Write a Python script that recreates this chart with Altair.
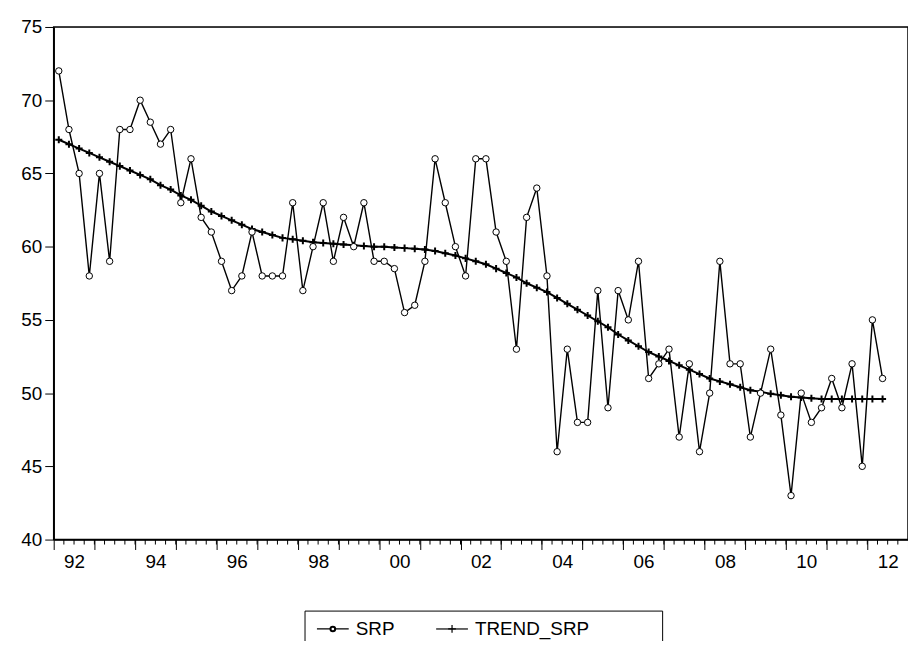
import altair as alt
import pandas as pd

start_year = 1992
srp = [72, 68, 65, 58, 65, 59, 68, 68, 70, 68.5, 67, 68,
       63, 66, 62, 61, 59, 57, 58, 61, 58, 58, 58, 63,
       57, 60, 63, 59, 62, 60, 63, 59, 59, 58.5, 55.5, 56,
       59, 66, 63, 60, 58, 66, 66, 61, 59, 53, 62, 64,
       58, 46, 53, 48, 48, 57, 49, 57, 55, 59, 51, 52,
       53, 47, 52, 46, 50, 59, 52, 52, 47, 50, 53, 48.5,
       43, 50, 48, 49, 51, 49, 52, 45, 55, 51]
trend = [67.3, 67.0, 66.7, 66.4, 66.1, 65.8, 65.5, 65.2, 64.9, 64.6, 64.2, 63.9,
         63.5, 63.2, 62.8, 62.4, 62.1, 61.8, 61.5, 61.2, 61.0, 60.8, 60.6, 60.5,
         60.4, 60.3, 60.25, 60.2, 60.15, 60.1, 60.05, 60.0, 60.0, 59.95, 59.9, 59.85,
         59.8, 59.7, 59.55, 59.4, 59.2, 59.0, 58.8, 58.5, 58.2, 57.9, 57.5, 57.2,
         56.9, 56.5, 56.1, 55.7, 55.3, 54.9, 54.5, 54.0, 53.6, 53.2, 52.8, 52.5,
         52.2, 51.9, 51.6, 51.3, 51.0, 50.8, 50.6, 50.4, 50.2, 50.1, 49.95, 49.85,
         49.75, 49.7, 49.65, 49.6, 49.6, 49.6, 49.6, 49.6, 49.6, 49.6]
years = list(range(1992, 2014))
yticks = [40, 45, 50, 55, 60, 65, 70, 75]

t = [start_year + (i + 0.5) / 4 for i in range(len(srp))]
df = pd.DataFrame({"t": t, "srp": srp, "trend": trend})
quarters = pd.DataFrame({"q": [start_year + k / 4 for k in range(1, 4 * (2013 - start_year))]})

W, H = 860, 516
FONT = "Liberation Sans"
FS = 19

xs = alt.Scale(domain=[1992, 2013], nice=False, zero=False)
ys = alt.Scale(domain=[40, 75], nice=False, zero=False)

xaxis = alt.Axis(values=years, title=None, tickSize=10, tickColor="black", domainColor="black",
                 domainWidth=1.5, tickWidth=1, labelFontSize=FS, labelFont=FONT, labelColor="black",
                 labelExpr="datum.value % 2 == 0 ? slice(toString(datum.value), 2) : ''",
                 labelOffset=20.5, labelOverlap=False, labelBound=False, labelFlush=False,
                 labelPadding=3, grid=False)
yaxis = alt.Axis(values=yticks, title=None, tickSize=9, tickColor="black", domainColor="black",
                 domainWidth=1.5, tickWidth=1, labelFontSize=FS, labelFont=FONT, labelColor="black",
                 labelPadding=3, grid=False)

base = alt.Chart(df)
trend_line = base.mark_line(color="black", strokeWidth=2).encode(
    x=alt.X("t:Q", scale=xs, axis=xaxis), y=alt.Y("trend:Q", scale=ys, axis=yaxis))
trend_pts = base.mark_point(shape="M-1,0L1,0M0,-1L0,1", size=50, stroke="black", strokeWidth=2,
                            filled=False, opacity=1).encode(x=alt.X("t:Q", scale=xs), y=alt.Y("trend:Q", scale=ys))
srp_line = base.mark_line(color="black", strokeWidth=1.4).encode(
    x=alt.X("t:Q", scale=xs), y=alt.Y("srp:Q", scale=ys))
srp_pts = base.mark_point(shape="circle", size=42, stroke="black", fill="white", filled=False,
                          strokeWidth=1, opacity=1, fillOpacity=1).encode(
    x=alt.X("t:Q", scale=xs), y=alt.Y("srp:Q", scale=ys))

minor = alt.Chart(quarters).mark_rule(color="black", strokeWidth=1).encode(
    x=alt.X("q:Q", scale=xs), y=alt.value(H), y2=alt.value(H + 5))

lg = alt.Chart(pd.DataFrame({"a": [0]}))
frame = lg.mark_rect(fill=None, stroke="black", strokeWidth=1.5, fillOpacity=0).encode(
    x=alt.value(0), x2=alt.value(W), y=alt.value(0), y2=alt.value(H))
LY = 606
lbox = lg.mark_rect(fill="white", stroke="black", strokeWidth=1).encode(
    x=alt.value(253), x2=alt.value(613), y=alt.value(588), y2=alt.value(626))
l1 = lg.mark_rule(color="black", strokeWidth=1.2).encode(x=alt.value(265), x2=alt.value(297), y=alt.value(LY))
l1p = lg.mark_point(shape="circle", size=22, stroke="black", fill="white", fillOpacity=1, opacity=1).encode(
    x=alt.value(281), y=alt.value(LY))
l1t = lg.mark_text(text="SRP", align="left", baseline="middle", fontSize=FS, font=FONT, color="black").encode(
    x=alt.value(304), y=alt.value(LY))
l2 = lg.mark_rule(color="black", strokeWidth=1.2).encode(x=alt.value(385), x2=alt.value(417), y=alt.value(LY))
l2p = lg.mark_point(shape="M-1,0L1,0M0,-1L0,1", size=60, stroke="black", strokeWidth=1.2, filled=False, opacity=1).encode(
    x=alt.value(401), y=alt.value(LY))
l2t = lg.mark_text(text="TREND_SRP", align="left", baseline="middle", fontSize=FS, font=FONT, color="black").encode(
    x=alt.value(424), y=alt.value(LY))

chart = alt.layer(minor, trend_line, trend_pts, srp_line, srp_pts, frame,
                  lbox, l1, l1p, l1t, l2, l2p, l2t).properties(
    width=W, height=H, autosize=alt.AutoSizeParams(type="none"),
    padding={"left": 46, "top": 17, "right": 0, "bottom": 100}
).configure_view(stroke=None).configure(background="white")

chart.save("out.html", embed_options={"renderer": "svg", "actions": False})
